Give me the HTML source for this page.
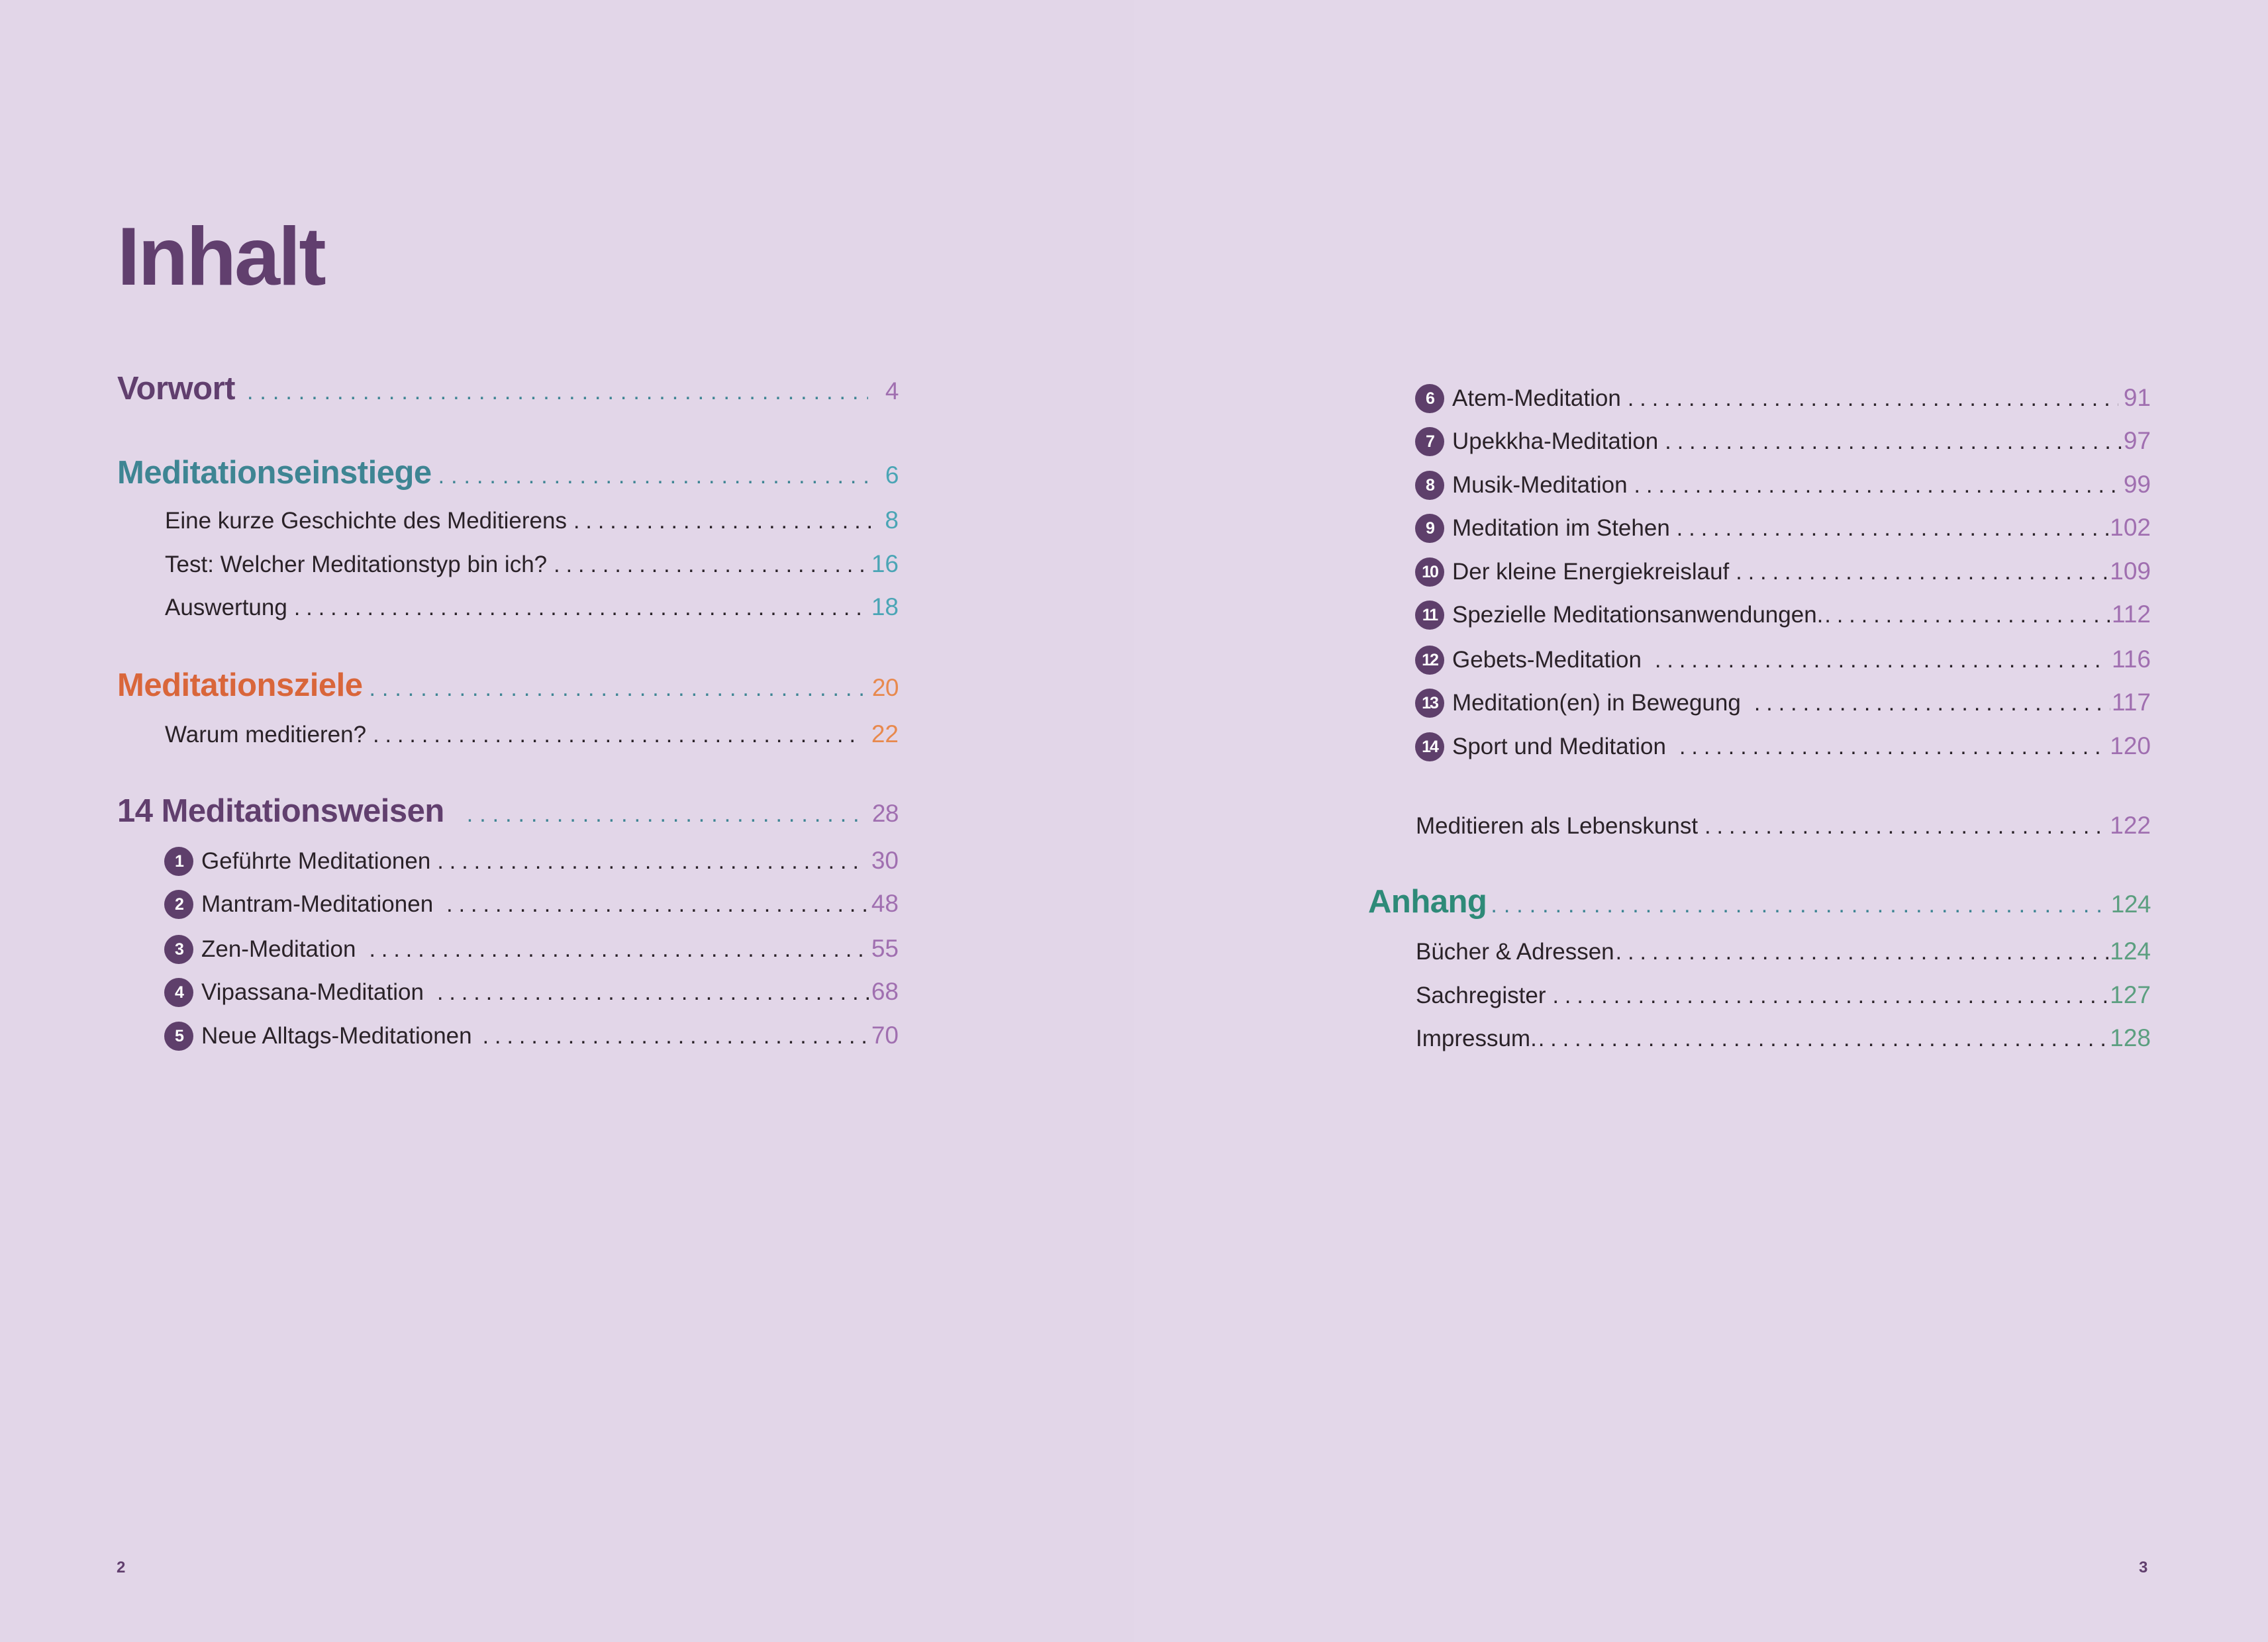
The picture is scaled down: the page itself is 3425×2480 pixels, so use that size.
<!DOCTYPE html>
<html><head><meta charset="utf-8"><style>
body{margin:0;width:3425px;height:2480px;background:#e2d6e8;font-family:"Liberation Sans",sans-serif;position:relative;overflow:hidden;color:#2a2228}
.rp{position:absolute;left:1712px;top:0;width:1713px;height:2480px;background:#e3d7e9}
.r{position:absolute;display:flex;align-items:baseline;white-space:nowrap;line-height:1}
.r .t{flex:none}
.r .l{flex:1;overflow:hidden;letter-spacing:9px;margin:0 8px 0 10px;font-weight:normal;font-size:34px;color:#2a2228}
.r .n{flex:none}
.h{font-weight:bold;font-size:49px;letter-spacing:-0.5px}
.h .l{color:#3e8593;letter-spacing:10px}
.e{font-size:35px}
.c{display:inline-block;width:44px;height:44px;border-radius:50%;background:#5e3f6b;color:#fff;font-weight:bold;font-size:25px;text-align:center;line-height:44px;margin-right:12px;letter-spacing:-2px;position:relative;top:-2px;flex:none;align-self:center}
.pu{color:#a06fb0}.tl{color:#4aa5b5}.or{color:#e8894d}.gr{color:#5c9f80}
.n{font-size:37px}
</style></head><body>
<div class="rp"></div>
<div style="position:absolute;left:177px;top:326px;font-size:124px;font-weight:bold;color:#613f6e;letter-spacing:-3px;line-height:1">Inhalt</div>

<div class="r h" style="left:177px;width:1180px;top:563px;color:#613f6e"><span class="t">Vorwort</span><span class="l" style="margin-left:18px;margin-right:26px">................................................................................................................</span><span class="n pu" style="font-weight:normal">4</span></div>

<div class="r h" style="left:177px;width:1180px;top:690px;color:#3e8593"><span class="t">Meditationseinstiege</span><span class="l" style="margin-right:26px">................................................................................................................</span><span class="n tl" style="font-weight:normal">6</span></div>
<div class="r e" style="left:249px;width:1108px;top:767px"><span class="t">Eine kurze Geschichte des Meditierens</span><span class="l">................................................................................................................</span><span class="n tl">8</span></div>
<div class="r e" style="left:249px;width:1108px;top:833px"><span class="t">Test: Welcher Meditationstyp bin ich?</span><span class="l">................................................................................................................</span><span class="n tl">16</span></div>
<div class="r e" style="left:249px;width:1108px;top:898px"><span class="t">Auswertung</span><span class="l">................................................................................................................</span><span class="n tl">18</span></div>

<div class="r h" style="left:177px;width:1180px;top:1011px;color:#d9663a"><span class="t">Meditationsziele</span><span class="l">................................................................................................................</span><span class="n or" style="font-weight:normal">20</span></div>
<div class="r e" style="left:249px;width:1108px;top:1090px"><span class="t">Warum meditieren?</span><span class="l" style="margin-right:18px">................................................................................................................</span><span class="n or">22</span></div>

<div class="r h" style="left:177px;width:1180px;top:1201px;color:#613f6e"><span class="t">14 Meditationsweisen</span><span class="l" style="margin-left:34px;margin-right:18px">................................................................................................................</span><span class="n pu" style="font-weight:normal">28</span></div>
<div class="r e" style="left:248px;width:1109px;top:1281px"><span class="c">1</span><span class="t">Geführte Meditationen</span><span class="l" style="margin-right:18px">................................................................................................................</span><span class="n pu">30</span></div>
<div class="r e" style="left:248px;width:1109px;top:1346px"><span class="c">2</span><span class="t">Mantram-Meditationen</span><span class="l" style="margin-left:20px;margin-right:2px">................................................................................................................</span><span class="n pu">48</span></div>
<div class="r e" style="left:248px;width:1109px;top:1414px"><span class="c">3</span><span class="t">Zen-Meditation</span><span class="l" style="margin-left:20px;margin-right:2px">................................................................................................................</span><span class="n pu">55</span></div>
<div class="r e" style="left:248px;width:1109px;top:1479px"><span class="c">4</span><span class="t">Vipassana-Meditation</span><span class="l" style="margin-left:20px;margin-right:2px">................................................................................................................</span><span class="n pu">68</span></div>
<div class="r e" style="left:248px;width:1109px;top:1545px"><span class="c">5</span><span class="t">Neue Alltags-Meditationen</span><span class="l" style="margin-left:16px;margin-right:2px">................................................................................................................</span><span class="n pu">70</span></div>

<div class="r e" style="left:2137px;width:1111px;top:582px"><span class="c">6</span><span class="t">Atem-Meditation</span><span class="l">................................................................................................................</span><span class="n pu">91</span></div>
<div class="r e" style="left:2137px;width:1111px;top:647px"><span class="c">7</span><span class="t">Upekkha-Meditation</span><span class="l" style="margin-right:2px">................................................................................................................</span><span class="n pu">97</span></div>
<div class="r e" style="left:2137px;width:1111px;top:713px"><span class="c">8</span><span class="t">Musik-Meditation</span><span class="l" style="margin-right:2px">................................................................................................................</span><span class="n pu">99</span></div>
<div class="r e" style="left:2137px;width:1111px;top:778px"><span class="c">9</span><span class="t">Meditation im Stehen</span><span class="l" style="margin-right:2px">................................................................................................................</span><span class="n pu">102</span></div>
<div class="r e" style="left:2137px;width:1111px;top:844px"><span class="c">10</span><span class="t">Der kleine Energiekreislauf</span><span class="l" style="margin-right:2px">................................................................................................................</span><span class="n pu">109</span></div>
<div class="r e" style="left:2137px;width:1111px;top:909px"><span class="c">11</span><span class="t">Spezielle Meditationsanwendungen.</span><span class="l" style="margin-left:2px;margin-right:2px">................................................................................................................</span><span class="n pu">112</span></div>
<div class="r e" style="left:2137px;width:1111px;top:977px"><span class="c">12</span><span class="t">Gebets-Meditation</span><span class="l" style="margin-left:20px;margin-right:14px">................................................................................................................</span><span class="n pu">116</span></div>
<div class="r e" style="left:2137px;width:1111px;top:1042px"><span class="c">13</span><span class="t">Meditation(en) in Bewegung</span><span class="l" style="margin-left:20px;margin-right:2px">................................................................................................................</span><span class="n pu">117</span></div>
<div class="r e" style="left:2137px;width:1111px;top:1108px"><span class="c">14</span><span class="t">Sport und Meditation</span><span class="l" style="margin-left:20px;margin-right:2px">................................................................................................................</span><span class="n pu">120</span></div>

<div class="r e" style="left:2138px;width:1110px;top:1228px"><span class="t">Meditieren als Lebenskunst</span><span class="l" style="margin-right:2px">................................................................................................................</span><span class="n pu">122</span></div>

<div class="r h" style="left:2066px;width:1182px;top:1338px;color:#2e8a78"><span class="t">Anhang</span><span class="l" style="margin-left:6px;margin-right:2px">................................................................................................................</span><span class="n gr" style="font-weight:normal">124</span></div>
<div class="r e" style="left:2138px;width:1110px;top:1418px"><span class="t">Bücher &amp; Adressen</span><span class="l" style="margin-left:2px;margin-right:2px">................................................................................................................</span><span class="n gr">124</span></div>
<div class="r e" style="left:2138px;width:1110px;top:1484px"><span class="t">Sachregister</span><span class="l" style="margin-right:2px">................................................................................................................</span><span class="n gr">127</span></div>
<div class="r e" style="left:2138px;width:1110px;top:1549px"><span class="t">Impressum.</span><span class="l" style="margin-left:2px;margin-right:2px">................................................................................................................</span><span class="n gr">128</span></div>

<div style="position:absolute;left:176px;top:2354px;font-size:24px;font-weight:bold;color:#613f6e">2</div>
<div style="position:absolute;left:3230px;top:2354px;font-size:24px;font-weight:bold;color:#613f6e">3</div>
</body></html>
